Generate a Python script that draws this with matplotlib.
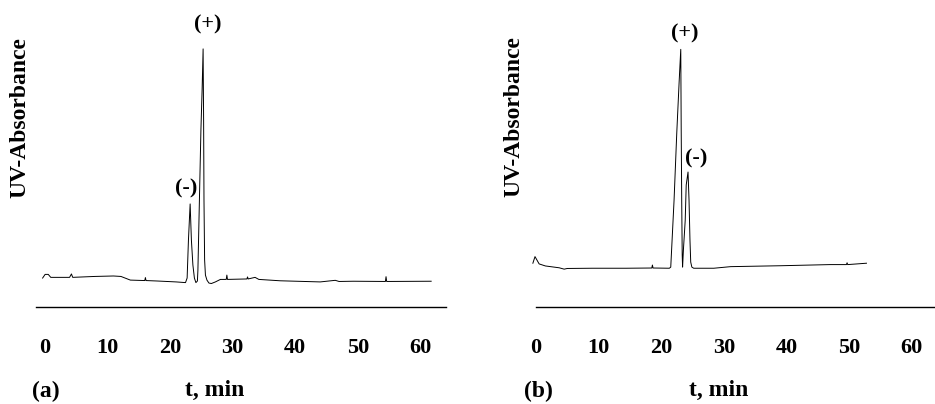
import matplotlib
matplotlib.use("Agg")
import matplotlib.pyplot as plt

# ---- data ----
ticks = [0, 10, 20, 30, 40, 50, 60]

t_a = [-0.3, 0.1, 0.6, 1.0, 4.0, 4.3, 4.5, 8.0, 11.0, 12.2, 13.7, 16.0, 16.1, 16.2,
       18.0, 21.0, 22.5, 22.76, 22.97, 23.24, 23.44, 23.68, 23.92, 24.16,
       24.40, 24.48, 24.72, 24.96, 25.15, 25.31, 25.39, 25.45, 25.55, 25.68,
       25.92, 26.24, 26.63, 27.27, 28.07, 29.0, 29.1, 29.2, 32.3, 32.4, 32.5,
       33.6, 34.2, 37.6, 44.0, 46.4, 47.0, 49.3, 54.4, 54.5, 54.6, 61.7]
y_a = [12.7, 14.3, 14.3, 13.0, 13.0, 14.5, 13.0, 13.4, 13.6, 13.4, 11.8, 11.6, 12.9, 11.6,
       11.4, 11.0, 10.7, 12.7, 29.4, 45.2, 29.4, 18.4, 12.7, 10.7,
       11.4, 16.2, 46.9, 77.6, 95.2, 113.2, 82.0, 46.9, 20.6, 14.0,
       11.8, 10.5, 10.3, 11.0, 12.1, 12.1, 14.0, 12.1, 12.3, 13.2, 12.3,
       13.0, 12.1, 11.5, 11.0, 11.7, 11.2, 11.3, 11.2, 13.3, 11.2, 11.3]

t_b = [-0.5, -0.16, 0.5, 1.5, 3.7, 4.5, 5.0, 9.0, 14.4, 18.5, 18.6, 18.7, 21.3,
       21.53, 22.06, 22.49, 22.86, 23.13, 23.20, 23.28, 23.36, 23.42,
       23.55, 23.84, 24.0, 24.29, 24.45, 24.6, 24.72, 24.9, 25.2,
       28.4, 31.1, 39.1, 47.0, 49.6, 49.7, 49.8, 52.8]
y_b = [19.2, 22.1, 18.9, 18.0, 17.2, 16.6, 16.9, 17.0, 17.0, 17.1, 18.4, 17.1, 17.0,
       17.5, 46.9, 76.3, 98.2, 113.0, 77.6, 46.9, 22.8, 17.5,
       25.0, 38.0, 53.5, 59.2, 46.9, 29.4, 19.7, 17.5, 17.0,
       17.0, 17.7, 18.1, 18.6, 18.6, 19.4, 18.6, 19.2]

peak_labels_a = [("(+)", 26.0, 124.0), ("(-)", 22.65, 52.0)]
peak_labels_b = [("(+)", 23.76, 119.8), ("(-)", 25.52, 65.0)]

# ---- figure ----
W, H = 935, 404
fig = plt.figure(figsize=(W / 100, H / 100), dpi=100)
FONT = "Liberation Serif"

def px_axes(left, right, top, bottom):
    return [left / W, (H - bottom) / H, (right - left) / W, (bottom - top) / H]

scale = 6.2667  # px per minute
ylim = (0, (307 - 10) / 2.28)

def make_panel(rect, x0px, left, right, t, y, labels):
    ax = fig.add_axes(rect)
    ax.set_xlim((left - x0px) / scale, (right - x0px) / scale)
    ax.set_ylim(*ylim)
    ax.plot(t, y, color="black", lw=0.7, clip_on=False)
    for s in ("left", "right", "top"):
        ax.spines[s].set_visible(False)
    ax.spines["bottom"].set_linewidth(1.0)
    ax.set_yticks([])
    ax.set_xticks(ticks)
    ax.set_xticklabels([str(v) for v in ticks], fontfamily=FONT,
                       fontweight="bold", fontsize=16)
    ax.tick_params(axis="x", length=0, pad=22)
    ax.patch.set_alpha(0)
    for txt, tx, ty in labels:
        ax.text(tx, ty, txt, ha="center", va="center", fontfamily=FONT,
                fontweight="bold", fontsize=16)
    return ax

make_panel(px_axes(36, 446, 10, 307), 44.5, 36, 446, t_a, y_a, peak_labels_a)
make_panel(px_axes(536, 935, 10, 307), 535.5, 536, 935, t_b, y_b, peak_labels_b)

def ftext(x, y, s, **kw):
    fig.text(x / W, 1 - y / H, s, fontfamily=FONT, fontweight="bold",
             fontsize=17, **kw)

ftext(20, 118, "UV-Absorbance", rotation=90, ha="center", va="center")
ftext(514, 117, "UV-Absorbance", rotation=90, ha="center", va="center")
ftext(32, 391, "(a)", ha="left", va="center")
ftext(215, 390, "t, min", ha="center", va="center")
ftext(524, 391, "(b)", ha="left", va="center")
ftext(719, 390, "t, min", ha="center", va="center")

fig.savefig("out.png", dpi=100)
